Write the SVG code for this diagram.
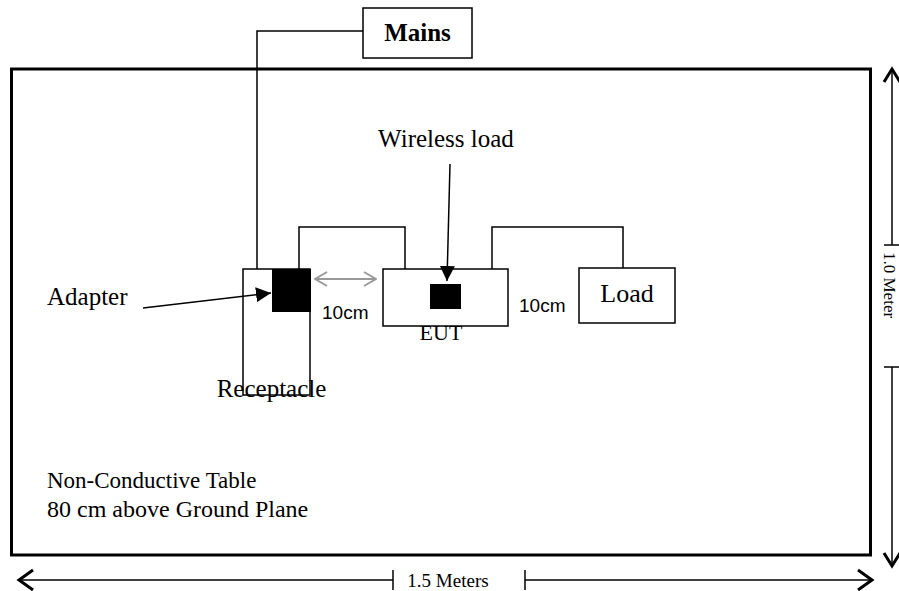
<svg xmlns="http://www.w3.org/2000/svg" width="899" height="591" viewBox="0 0 899 591">
<style>
.serif{font-family:"Liberation Serif","Times New Roman",serif;fill:#000}
.sans{font-family:"Liberation Sans",Arial,sans-serif;fill:#000}
.box{fill:#fff;stroke:#000;stroke-width:1.5}
.wire{fill:none;stroke:#000;stroke-width:1.5}
.dim{fill:none;stroke:#000;stroke-width:1.5}
.head{fill:none;stroke:#000;stroke-width:3;stroke-linejoin:miter}
</style>
<defs>
<marker id="tri" viewBox="0 0 10 10" refX="10" refY="5" markerWidth="15" markerHeight="15" markerUnits="userSpaceOnUse" orient="auto">
<path d="M0,0 L10,5 L0,10 z" fill="#000"/>
</marker>
<marker id="grey" viewBox="0 0 14 16" refX="13" refY="8" markerWidth="14" markerHeight="16" markerUnits="userSpaceOnUse" orient="auto-start-reverse">
<path d="M1,1 L13,8 L1,15" fill="none" stroke="#999" stroke-width="2"/>
</marker>
</defs>

<g id="table">
<rect x="11.5" y="69" width="859" height="486" fill="#fff" stroke="#000" stroke-width="3"/>
<text class="serif" x="47" y="488" font-size="23">Non-Conductive Table</text>
<text class="serif" x="47" y="517" font-size="24">80 cm above Ground Plane</text>
</g>

<g id="mains">
<rect class="box" x="363" y="8" width="109" height="50"/>
<text class="serif" x="417.5" y="41" font-size="25" font-weight="bold" text-anchor="middle">Mains</text>
</g>

<g id="receptacle">
<rect class="box" x="243" y="269" width="67" height="126"/>
<text class="serif" x="271.5" y="397" font-size="25" text-anchor="middle">Receptacle</text>
</g>

<g id="adapter">
<rect x="272" y="269" width="39" height="43" fill="#000"/>
<text class="serif" x="47" y="305" font-size="25">Adapter</text>
</g>

<g id="eut">
<rect class="box" x="383" y="269" width="125" height="57"/>
<text class="serif" x="441" y="340" font-size="22" text-anchor="middle">EUT</text>
</g>

<g id="wireless-load">
<rect x="430" y="284" width="31" height="25" fill="#000"/>
<text class="serif" x="446" y="147" font-size="25" text-anchor="middle">Wireless load</text>
</g>

<g id="load">
<rect class="box" x="579" y="268" width="96" height="55"/>
<text class="serif" x="627" y="302" font-size="26" text-anchor="middle">Load</text>
</g>

<g id="connectors">
<polyline class="wire" points="363,31 257,31 257,269"/>
<polyline class="wire" points="299,269 299,227 405,227 405,269"/>
<polyline class="wire" points="492,269 492,227 623,227 623,268"/>
<line x1="143" y1="308" x2="271" y2="293" stroke="#000" stroke-width="1.5" marker-end="url(#tri)"/>
<line x1="450" y1="164" x2="447" y2="281" stroke="#000" stroke-width="1.5" marker-end="url(#tri)"/>
<line x1="315" y1="279" x2="376" y2="279" stroke="#999" stroke-width="2" marker-start="url(#grey)" marker-end="url(#grey)"/>
</g>

<g id="labels">
<text class="sans" x="322" y="319" font-size="19">10cm</text>
<text class="sans" x="519" y="312" font-size="19">10cm</text>
</g>

<g id="dim-width">
<line class="dim" x1="20" y1="580" x2="393" y2="580"/>
<line class="dim" x1="525" y1="580" x2="870" y2="580"/>
<line class="dim" x1="393" y1="570" x2="393" y2="590"/>
<line class="dim" x1="525" y1="570" x2="525" y2="590"/>
<polyline class="head" points="33,570 19,580 33,590"/>
<polyline class="head" points="858,570 872,580 858,590"/>
<text class="serif" x="448" y="587" font-size="19" text-anchor="middle">1.5 Meters</text>
</g>

<g id="dim-height">
<line class="dim" x1="892" y1="70" x2="892" y2="245"/>
<line class="dim" x1="892" y1="367" x2="892" y2="565"/>
<line class="dim" x1="884" y1="245" x2="899" y2="245"/>
<line class="dim" x1="884" y1="367" x2="899" y2="367"/>
<polyline class="head" points="884,82 892,69 900,82"/>
<polyline class="head" points="884,553 892,566 900,553"/>
<text class="serif" transform="translate(884,252) rotate(90)" x="0" y="0" font-size="17">1.0 Meter</text>
</g>
</svg>
